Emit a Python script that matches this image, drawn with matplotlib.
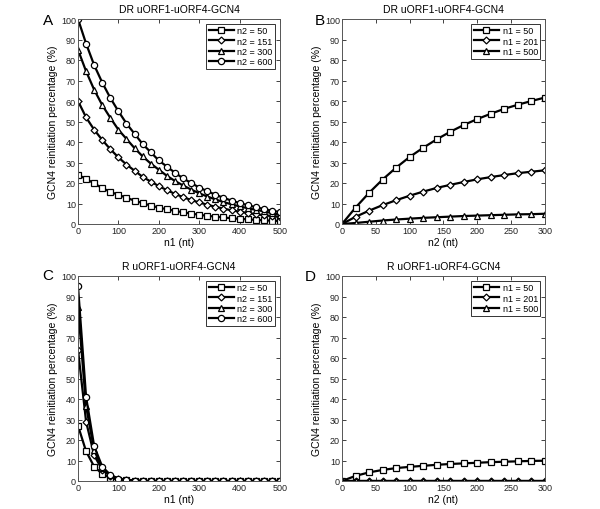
import matplotlib
matplotlib.use("Agg")
import matplotlib.pyplot as plt
import numpy as np

plt.rcParams['font.family'] = ['Liberation Sans', 'DejaVu Sans']

# Panel A: DR, x = n1
n1_x = list(range(0, 501, 20))
A_n2_50 = [24, 22, 19.8, 17.5, 15.7, 14.2, 12.8, 11.4, 10.2, 9.0, 8.0, 7.2, 6.4, 5.7,
           5.1, 4.5, 4.0, 3.6, 3.2, 2.8, 2.5, 2.3, 2.0, 1.8, 1.6, 1.5]
A_n2_151 = [60, 52, 46, 41, 36.5, 32.5, 29, 26, 23, 20.7, 18.5, 16.5, 14.7, 13.1,
            11.7, 10.5, 9.4, 8.4, 7.5, 6.7, 6.0, 5.4, 4.8, 4.3, 3.9, 3.5]
A_n2_300 = [85, 74.5, 65.5, 58, 51.8, 46, 41.5, 37, 33, 29.5, 26.5, 23.5, 21, 18.8,
            16.8, 15, 13.4, 12, 10.7, 9.6, 8.6, 7.7, 6.9, 6.2, 5.3, 4.5]
A_n2_600 = [100, 88, 77.5, 69, 61.5, 55, 49, 44, 39, 35, 31, 28, 25, 22.3,
            20, 17.8, 16, 14.3, 12.8, 11.4, 10.2, 9.2, 8.2, 7.3, 6.5, 5.8]

# Panel B: DR, x = n2
n2_x = list(range(0, 301, 20))
B_n1_50 = [0, 8, 15.2, 21.7, 27.5, 32.7, 37.2, 41.3, 45, 48.3, 51.2, 53.8, 56.2, 58.2, 60, 61.7]
B_n1_201 = [0, 3.5, 6.5, 9.2, 11.6, 13.8, 15.8, 17.6, 19.1, 20.5, 21.8, 22.9, 23.9, 24.8, 25.5, 26.2]
B_n1_500 = [0, 0.5, 1.1, 1.7, 2.2, 2.6, 3.0, 3.3, 3.6, 3.9, 4.1, 4.3, 4.5, 4.7, 4.8, 5.0]

# Panel C: R, x = n1
C_n2_50 = [27, 14.5, 7, 3.5, 1.5, 0.7, 0.3] + [0] * 19
C_n2_151 = [64, 29, 12.5, 5.5, 2.3, 1.0, 0.4, 0.2] + [0] * 18
C_n2_300 = [85, 36.5, 15, 6.3, 2.7, 1.1, 0.5, 0.2] + [0] * 18
C_n2_600 = [95, 41, 17, 7, 3, 1.2, 0.5, 0.2] + [0] * 18

# Panel D: R, x = n2
D_n1_50 = [0, 2.5, 4.2, 5.4, 6.3, 6.9, 7.4, 7.9, 8.3, 8.6, 8.9, 9.2, 9.4, 9.6, 9.8, 9.9]
D_n1_201 = [0] * 16
D_n1_500 = [0] * 16

labels_n2 = ['n2 = 50', 'n2 = 151', 'n2 = 300', 'n2 = 600']
labels_n1 = ['n1 = 50', 'n1 = 201', 'n1 = 500']
markers4 = ['s', 'D', '^', 'o']
markers3 = ['s', 'D', '^']
msizes = {'s': 4, 'D': 3.5, '^': 4.5, 'o': 4.5}

W, H = 600, 510
fig = plt.figure(figsize=(6, 5.1), dpi=100)

def make_ax(l, r, t, b):
    return fig.add_axes([l / W, 1 - b / H, (r - l) / W, (b - t) / H])

def style(ax, xlim, xticks, xlabel, title, letter, lx, ly):
    ax.set_xlim(*xlim)
    ax.set_ylim(0, 100)
    ax.set_xticks(xticks)
    ax.set_yticks(range(0, 101, 10))
    ax.tick_params(direction='in', length=3, width=0.6, labelsize=6.5, top=True, right=True, pad=1.5,
                   colors='#222222')
    for s in ax.spines.values():
        s.set_linewidth(0.7)
        s.set_color('#555555')
    ax.set_xlabel(xlabel, fontsize=7.5, labelpad=1.5)
    ax.set_ylabel('GCN4 reinitiation percentage (%)', fontsize=7.5, labelpad=2)
    ax.set_title(title, fontsize=7.5, pad=5)
    fig.text(lx / W, 1 - ly / H, letter, fontsize=11, ha='center', va='center')

def plot_series(ax, x, series, markers, labels):
    for y, m, lab in zip(series, markers, labels):
        ax.plot(x, y, color='black', lw=1.6, marker=m, ms=msizes[m], mfc='white',
                mec='black', mew=0.9, label=lab)
    leg = ax.legend(loc='upper right', fontsize=6.5, frameon=True, fancybox=False,
                    edgecolor='black', handlelength=2.8, handletextpad=0.4,
                    borderpad=0.3, labelspacing=0.15, borderaxespad=0.5)
    leg.get_frame().set_linewidth(0.7)

axA = make_ax(78, 280, 20, 225)
plot_series(axA, n1_x, [A_n2_50, A_n2_151, A_n2_300, A_n2_600], markers4, labels_n2)
style(axA, (0, 500), range(0, 501, 100), 'n1 (nt)', 'DR uORF1-uORF4-GCN4', 'A', 48, 21)

axB = make_ax(342, 545, 20, 225)
plot_series(axB, n2_x, [B_n1_50, B_n1_201, B_n1_500], markers3, labels_n1)
style(axB, (0, 300), range(0, 301, 50), 'n2 (nt)', 'DR uORF1-uORF4-GCN4', 'B', 320, 21)

axC = make_ax(78, 280, 277, 482)
plot_series(axC, n1_x, [C_n2_50, C_n2_151, C_n2_300, C_n2_600], markers4, labels_n2)
style(axC, (0, 500), range(0, 501, 100), 'n1 (nt)', 'R uORF1-uORF4-GCN4', 'C', 48, 276)

axD = make_ax(342, 545, 277, 482)
plot_series(axD, n2_x, [D_n1_50, D_n1_201, D_n1_500], markers3, labels_n1)
style(axD, (0, 300), range(0, 301, 50), 'n2 (nt)', 'R uORF1-uORF4-GCN4', 'D', 310, 277)

fig.savefig('out.png', dpi=100)
